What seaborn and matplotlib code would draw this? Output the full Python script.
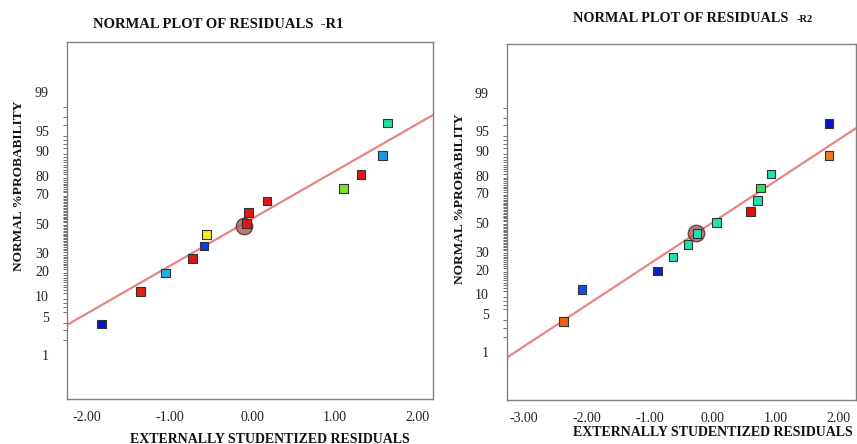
import numpy as np
import pandas as pd
import matplotlib
matplotlib.use("Agg")
import matplotlib.pyplot as plt
import seaborn as sns
from statistics import NormalDist

# ---------------- data ----------------
prob_pct = [3.8, 11.5, 19.2, 26.9, 34.6, 42.3, 50.0, 57.7, 65.4, 73.1, 80.8, 88.5, 96.2]

r1_resid = [-1.82, -1.35, -1.05, -0.72, -0.58, -0.55, -0.07, -0.04, 0.18, 1.11, 1.32, 1.58, 1.64]
r1_colors = ["#0a16c8", "#e4200f", "#1cb4e0", "#d81818", "#1040e0", "#f2f020", "#e01818",
             "#e01818", "#de1a18", "#7ee030", "#dc1a18", "#1a98e8", "#22e0a0"]
r1_center = (-0.10, 48.5)
r1_fit_x = [-2.24, 2.19]
r1_fit_p = [3.67, 97.26]

r2_resid = [-2.37, -2.08, -0.88, -0.63, -0.39, -0.25, 0.06, 0.60, 0.71, 0.76, 0.93, 1.85, 1.85]
r2_colors = ["#f06010", "#1050e8", "#0a1ecc", "#22e0b0", "#22e0b0", "#22e0b0", "#22e0b0",
             "#e01010", "#22e0b0", "#40d860", "#22e0b0", "#f07820", "#0a16c8"]
r2_center = (-0.27, 42.3)
r2_fit_x = [-3.27, 2.28]
r2_fit_p = [0.78, 95.45]

ytick_major = [1, 5, 10, 20, 30, 50, 70, 80, 90, 95, 99]
ytick_minor = [2, 3, 4, 6, 7, 8, 9] + list(range(11, 90)) + [91, 92, 93, 94, 96, 97, 98]
r1_xticks = [-2.0, -1.0, 0.0, 1.0, 2.0]
r2_xticks = [-3.0, -2.0, -1.0, 0.0, 1.0, 2.0]
r1_xlim = (-2.24, 2.19)
r2_xlim = (-3.27, 2.28)
r1_ylim = (0.0968, 99.9336)
r2_ylim = (0.0737, 99.931)

# ---------------- scale ----------------
_nd = NormalDist()


def _ppf1(p):
    if not np.isfinite(p):
        return np.nan
    q = min(max(p / 100.0, 1e-12), 1 - 1e-12)
    return _nd.inv_cdf(q)


def _cdf1(z):
    if not np.isfinite(z):
        return np.nan
    return 100.0 * _nd.cdf(z)


_ppf = np.vectorize(_ppf1, otypes=[float])
_cdf = np.vectorize(_cdf1, otypes=[float])


def fwd(p):
    return _ppf(np.asarray(p, dtype=float))


def inv(z):
    return _cdf(np.asarray(z, dtype=float))


sns.set_theme(style="white")
plt.rcParams["font.family"] = ["Liberation Serif", "DejaVu Serif"]

fig = plt.figure(figsize=(8.57, 4.44), dpi=100)
W, H = 857.0, 444.0


def make_axes(l, t, r, b):
    return fig.add_axes([l / W, 1 - b / H, (r - l) / W, (b - t) / H])


ax1 = make_axes(67, 42, 433, 399)
ax2 = make_axes(507, 44, 856, 400)


def draw(ax, resid, colors, center, fit_x, fit_p, xticks, xlim, ylim):
    labels = [f"p{i}" for i in range(len(resid))]
    df = pd.DataFrame({"resid": resid, "prob": prob_pct, "lab": labels})
    pal = dict(zip(labels, colors))
    sns.lineplot(x=fit_x, y=fit_p, ax=ax, color="#e88484", lw=1.6, zorder=2)
    sns.scatterplot(x=[center[0]], y=[center[1]], ax=ax, color="#b05858", alpha=0.8,
                    s=140, edgecolor="#4a2a2a", linewidth=1.0, zorder=3)
    sns.scatterplot(data=df, x="resid", y="prob", hue="lab", palette=pal, legend=False,
                    marker="s", s=38, edgecolor="#333333", linewidth=0.8, ax=ax, zorder=4)
    ax.set_yscale("function", functions=(fwd, inv))
    ax.set_xlim(*xlim)
    ax.set_ylim(*ylim)
    ax.set_yticks(ytick_major)
    ax.set_yticklabels([str(v) for v in ytick_major])
    ax.set_yticks(ytick_minor, minor=True)
    ax.set_xticks(xticks)
    ax.set_xticklabels([f"{v:.2f}" for v in xticks])
    ax.set_xlabel("")
    ax.set_ylabel("")
    for sp in ax.spines.values():
        sp.set_color("#808080")
        sp.set_linewidth(1.0)
    ax.tick_params(axis="both", which="major", direction="out", length=6, width=0.9,
                   color="#444444", labelsize=10, labelcolor="#222222")
    ax.tick_params(axis="y", which="major", pad=7)
    ax.tick_params(axis="x", which="major", pad=2.5)
    ax.tick_params(axis="y", which="minor", direction="out", length=3, width=0.6,
                   color="#555555", left=True)
    ax.tick_params(axis="x", which="minor", bottom=False)
    ax.grid(False)


draw(ax1, r1_resid, r1_colors, r1_center, r1_fit_x, r1_fit_p, r1_xticks, r1_xlim, r1_ylim)
draw(ax2, r2_resid, r2_colors, r2_center, r2_fit_x, r2_fit_p, r2_xticks, r2_xlim, r2_ylim)

# titles
fig.text(93 / W, 1 - 24 / H, "NORMAL PLOT OF RESIDUALS  -R1", fontsize=10.5, fontweight="bold",
         ha="left", va="center", color="#111111")
fig.text(573 / W, 1 - 19 / H, "NORMAL PLOT OF RESIDUALS", fontsize=10.3, fontweight="bold",
         ha="left", va="center", color="#111111")
fig.text(797 / W, 1 - 19 / H, "-R2", fontsize=7.5, fontweight="bold",
         ha="left", va="center", color="#111111")

# y labels
fig.text(19 / W, 1 - 186 / H, "NORMAL %PROBABILITY", fontsize=9.6, fontweight="bold",
         rotation=90, ha="center", va="center", color="#111111")
fig.text(460 / W, 1 - 199 / H, "NORMAL %PROBABILITY", fontsize=9.6, fontweight="bold",
         rotation=90, ha="center", va="center", color="#111111")

# x labels
fig.text(270 / W, 1 - 439 / H, "EXTERNALLY STUDENTIZED RESIDUALS", fontsize=10, fontweight="bold",
         ha="center", va="center", color="#111111")
fig.text(713 / W, 1 - 432 / H, "EXTERNALLY STUDENTIZED RESIDUALS", fontsize=10, fontweight="bold",
         ha="center", va="center", color="#111111")

fig.savefig("out.png", dpi=100)
